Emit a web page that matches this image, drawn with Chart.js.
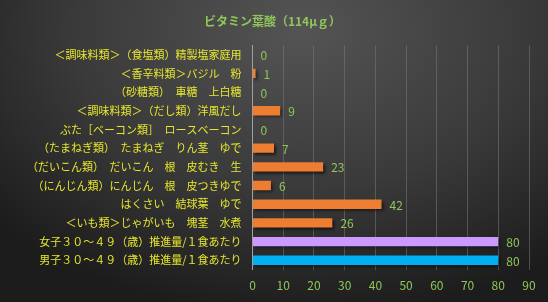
<!DOCTYPE html>
<html>
<head>
<meta charset="utf-8">
<script src="https://cdn.jsdelivr.net/npm/chart.js@4"></script>
<style>
  html, body { margin: 0; padding: 0; }
  body {
    width: 548px; height: 302px; overflow: hidden;
    background: radial-gradient(ellipse 75% 95% at 55% 10%, #545454 0%, #3a3a3a 55%, #1c1c1c 100%);
  }
  #wrap { position: relative; width: 548px; height: 302px; }
</style>
</head>
<body>
<div id="wrap"><canvas id="myChart" width="548" height="302"></canvas></div>
<script>
// categories top to bottom
const foods = [
  '＜調味料類＞（食塩類）精製塩家庭用',
  '＜香辛料類＞バジル　粉',
  '（砂糖類）　車糖　上白糖',
  '＜調味料類＞（だし類）洋風だし',
  'ぶた［ベーコン類］　ロースベーコン',
  '（たまねぎ類）　たまねぎ　りん茎　ゆで',
  '（だいこん類）　だいこん　根　皮むき　生',
  '（にんじん類）にんじん　根　皮つきゆで',
  'はくさい　結球葉　ゆで',
  '＜いも類＞じゃがいも　塊茎　水煮',
  '女子３０～４９（歳）推進量/１食あたり',
  '男子３０～４９（歳）推進量/１食あたり'
];
const folate = [0, 1, 0, 9, 0, 7, 23, 6, 42, 26, 80, 80];
const xTicks = [0, 10, 20, 30, 40, 50, 60, 70, 80, 90];

const barColors = folate.map((v, i) => {
  if (i === foods.length - 1) return '#00b0f0';
  if (i === foods.length - 2) return '#cc99ff';
  return '#ed7d31';
});

// value labels next to each bar
const valueLabels = {
  id: 'valueLabels',
  afterDatasetsDraw(chart) {
    const c = chart.ctx;
    const meta = chart.getDatasetMeta(0);
    c.save();
    c.font = '12px "Noto Sans CJK JP", "DejaVu Sans", sans-serif';
    c.fillStyle = '#8fc65a';
    c.textBaseline = 'middle';
    meta.data.forEach((bar, i) => {
      c.fillText(String(folate[i]), bar.x + 8, bar.y + 1);
    });
    c.restore();
  }
};

// soft drop shadow under bars
const barShadow = {
  id: 'barShadow',
  beforeDatasetsDraw(chart) {
    const c = chart.ctx;
    c.save();
    c.shadowColor = 'rgba(0,0,0,0.6)';
    c.shadowBlur = 3;
    c.shadowOffsetX = 2;
    c.shadowOffsetY = 2;
  },
  afterDatasetsDraw(chart) {
    chart.ctx.restore();
  }
};

const ctx = document.getElementById('myChart');

new Chart(ctx, {
  type: 'bar',
  data: {
    labels: foods,
    datasets: [{
      label: 'ビタミン葉酸',
      data: folate,
      backgroundColor: barColors,
      borderWidth: 0,
      barPercentage: 0.5,
      categoryPercentage: 1
    }]
  },
  options: {
    indexAxis: 'y',
    responsive: false,
    animation: false,
    devicePixelRatio: 1,
    layout: { padding: { left: 16, right: 19, top: 6, bottom: 0 } },
    plugins: {
      legend: { display: false },
      tooltip: { enabled: false },
      title: {
        display: true,
        text: 'ビタミン葉酸（114μｇ）',
        color: '#8fc65a',
        font: { family: '"Noto Sans CJK JP", sans-serif', size: 12, weight: 'bold' },
        padding: { top: 8, bottom: 17 }
      }
    },
    scales: {
      x: {
        min: 0,
        max: 90,
        afterBuildTicks(axis) { axis.ticks = xTicks.map(v => ({ value: v })); },
        grid: { color: 'rgba(120,120,120,0.55)', drawTicks: false },
        border: { display: false },
        ticks: {
          color: '#8fc65a',
          padding: 9,
          maxRotation: 0,
          font: { family: '"Noto Sans CJK JP", "DejaVu Sans", sans-serif', size: 12 }
        }
      },
      y: {
        grid: { display: false, drawTicks: false },
        border: { display: true, color: '#a0a0a0', width: 1 },
        ticks: {
          color: '#e6e62e',
          padding: 11,
          autoSkip: false,
          font: { family: '"Noto Sans CJK JP", sans-serif', size: 11 }
        }
      }
    }
  },
  plugins: [barShadow, valueLabels]
});
</script>
</body>
</html>
